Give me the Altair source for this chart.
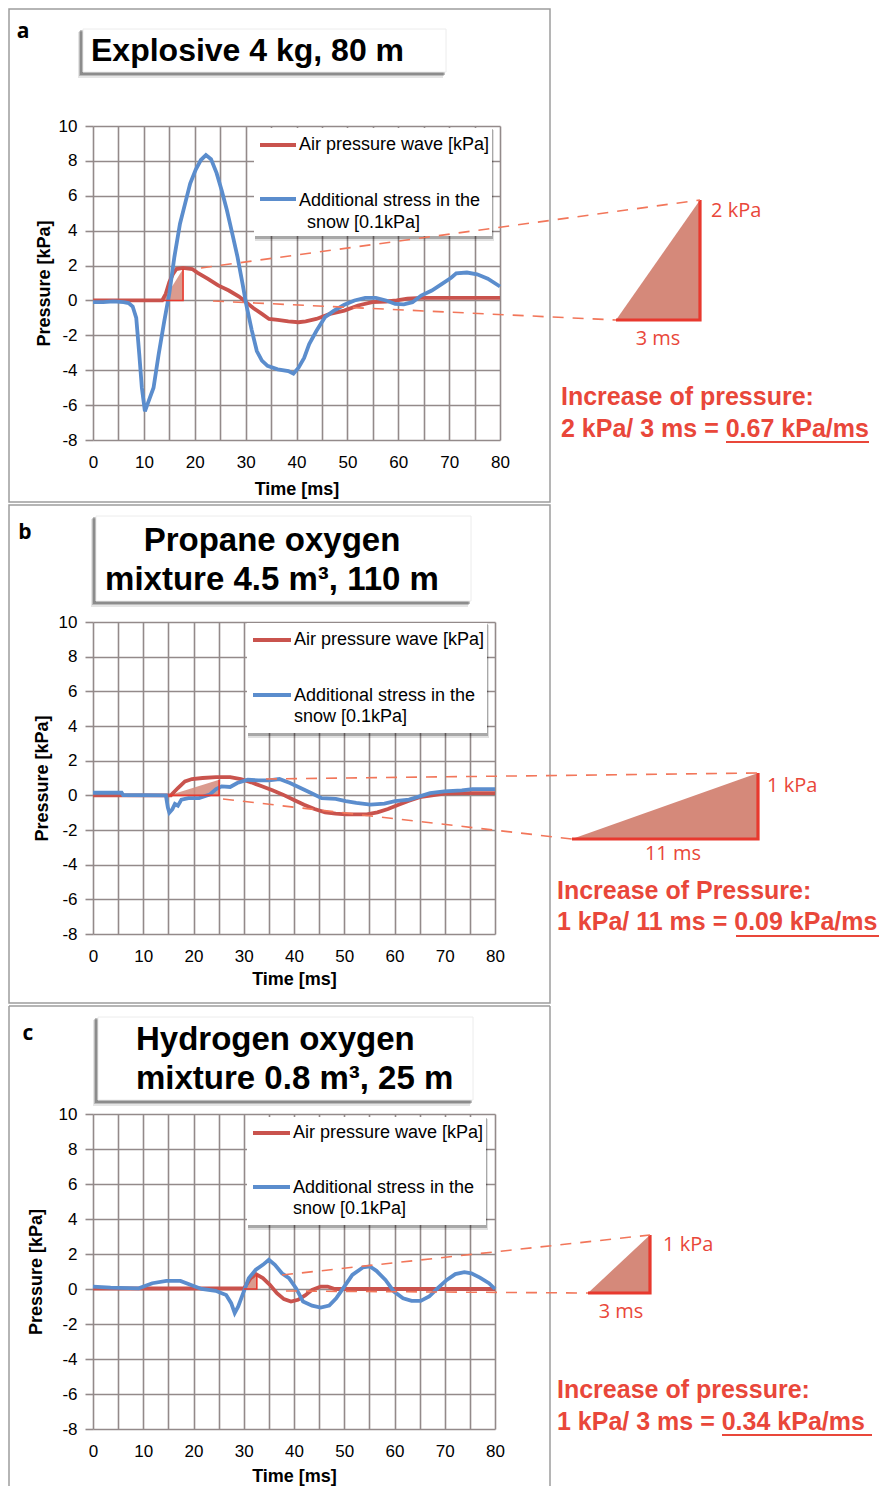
import altair as alt
import pandas as pd

# ---------------- data ----------------
A_AIR_T = [0, 13.6, 14.3, 15.0, 15.7, 16.4, 17.7, 19.5, 20.5, 22.6, 24.6, 26.7, 28.7, 30.1, 31.5, 33.2,
           34.6, 36.3, 38.4, 40.4, 41.8, 43.9, 46.6, 49.4, 52.1, 54.9, 57.6, 59.7, 61.8, 64.5, 80]
A_AIR_P = [0, 0, 0.38, 1.05, 1.5, 1.8, 1.87, 1.8, 1.6, 1.24, 0.86, 0.57, 0.22, -0.1, -0.43, -0.77,
           -1.06, -1.12, -1.2, -1.25, -1.2, -1.06, -0.77, -0.58, -0.29, -0.1, -0.06, 0, 0.1, 0.15, 0.15]
A_SNOW_T = [0, 2, 4, 6, 7, 7.8, 8.5, 9.1, 9.6, 10.2, 10.9, 11.9, 12.9, 14.0, 15.0, 16.0, 17.1, 18.1,
            19.1, 20.2, 21.2, 22.2, 23.2, 24.3, 25.3, 26.3, 27.4, 28.4, 29.4, 30.1, 31.2, 32.2, 33.2,
            34.3, 36.3, 38.4, 39.4, 40.4, 41.5, 42.5, 43.9, 45.6, 47.3, 49.4, 51.4, 53.5, 55.6, 57.6,
            59.4, 61.1, 62.8, 64.5, 66.6, 68.6, 70.4, 71.4, 73.5, 75.5, 77.6, 80]
A_SNOW_P = [-0.1, -0.1, -0.05, -0.1, -0.15, -0.35, -1.0, -3.1, -5.0, -6.35, -5.8, -5.0, -3.1, -1.2,
            0.4, 2.5, 4.4, 5.55, 6.7, 7.5, 8.05, 8.33, 8.1, 7.3, 6.3, 5.2, 3.8, 2.5, 0.95, -0.2, -1.7,
            -2.9, -3.45, -3.75, -3.95, -4.05, -4.2, -3.85, -3.3, -2.5, -1.75, -0.96, -0.6, -0.25, 0.0,
            0.15, 0.15, 0.0, -0.2, -0.22, -0.1, 0.28, 0.57, 0.95, 1.3, 1.55, 1.6, 1.5, 1.25, 0.8]

B_AIR_T = [0, 15.5, 16.9, 18.3, 19.7, 21.8, 24.5, 27.3, 29.4, 31.5, 33.6, 35.7, 37.8, 39.9, 42, 44.1,
           46.2, 48.3, 50.3, 52.4, 54.5, 56.6, 58.7, 60.8, 62.9, 65, 67.1, 69.9, 73.4, 80]
B_AIR_P = [0, 0, 0.42, 0.8, 0.94, 1.0, 1.05, 1.05, 0.94, 0.75, 0.52, 0.29, 0.04, -0.25, -0.54, -0.79,
           -0.98, -1.05, -1.1, -1.1, -1.1, -0.98, -0.79, -0.54, -0.31, -0.11, -0.02, 0.1, 0.13, 0.13]
B_SNOW_T = [0, 5.7, 6, 14.5, 14.9, 15.2, 15.8, 16.3, 16.9, 17.6, 19, 21.1, 23.2, 24.5, 25.6, 27.3,
            28.7, 30.8, 32.9, 35, 37.1, 39.2, 41.3, 43.4, 45.5, 48.3, 50.3, 52.4, 55.2, 58, 60.1,
            62.9, 65, 67.1, 69.9, 73.4, 75.5, 80]
B_SNOW_P = [0.15, 0.15, 0.02, 0.0, -0.7, -1.0, -0.8, -0.5, -0.6, -0.25, -0.16, -0.16, 0.04, 0.36,
            0.52, 0.48, 0.71, 0.9, 0.86, 0.86, 0.94, 0.71, 0.42, 0.13, -0.16, -0.21, -0.34, -0.44,
            -0.54, -0.48, -0.34, -0.25, -0.06, 0.13, 0.23, 0.29, 0.36, 0.36]

C_AIR_T = [0, 30, 31.4, 32.4, 33.8, 35.2, 36.6, 38, 39.4, 40.8, 42.2, 43.6, 45.3, 46.7, 48.1, 80]
C_AIR_P = [0.03, 0.03, 0.62, 0.85, 0.62, 0.24, -0.24, -0.58, -0.72, -0.62, -0.37, -0.05, 0.14, 0.14,
           0.0, 0.0]
C_SNOW_T = [0, 3.5, 9.1, 11.8, 14.6, 17.4, 19.5, 21.6, 24.4, 26.5, 27.5, 28.2, 28.9, 30, 31, 32.4,
            33.8, 35, 36.2, 37.6, 39, 40.4, 41.8, 43.6, 45.3, 47, 48.4, 49.8, 51.6, 53.7, 55.1, 56.4,
            58.2, 59.9, 61.7, 63.4, 65.2, 66.9, 68.6, 70.4, 72.1, 73.9, 75.3, 77, 78.8, 80]
C_SNOW_P = [0.14, 0.08, 0.04, 0.33, 0.46, 0.46, 0.23, 0.0, -0.1, -0.34, -0.81, -1.38, -1.0, -0.15,
            0.62, 1.1, 1.38, 1.67, 1.38, 0.9, 0.62, 0.05, -0.72, -0.95, -1.06, -0.95, -0.53, 0.05,
            0.81, 1.23, 1.29, 1.04, 0.52, -0.15, -0.53, -0.68, -0.68, -0.43, 0.05, 0.52, 0.85, 0.96,
            0.9, 0.65, 0.33, 0.0]

# rise triangles drawn on the curves: (start time, end time, pressure reached)
A_RISE = [13.8, 17.7, 1.8]
B_RISE = [15.2, 25.1, 0.9]
C_RISE = [30.0, 32.6, 0.85]

X_TICKS = list(range(0, 81, 5))
Y_TICKS = list(range(-8, 11, 2))
LEGEND = ["Air pressure wave [kPa]", "Additional stress in the", "snow [0.1kPa]"]
TITLES = [["Explosive 4 kg, 80 m"],
          ["Propane oxygen", "mixture 4.5 m³, 110 m"],
          ["Hydrogen oxygen", "mixture 0.8 m³, 25 m"]]
LETTERS = ["a", "b", "c"]
RISE_LABELS = [["2 kPa", "3 ms"], ["1 kPa", "11 ms"], ["1 kPa", "3 ms"]]
INCREASE = ["Increase of pressure:", "Increase of Pressure:", "Increase of pressure:"]
RATES = ["2 kPa/ 3 ms = 0.67 kPa/ms", "1 kPa/ 11 ms = 0.09 kPa/ms", "1 kPa/ 3 ms = 0.34 kPa/ms"]

# ---------------- styles ----------------
FONT = "Liberation Sans"
SOFT = "Open Sans"
RED = "#c9534d"
BLUE = "#5b8dcd"
GRID = "#938a8a"
ANNO = "#e9473a"
DASH = "#f2765a"
TRI_FILL = "#d5897a"

# ---------------- layout (pixels relative to each plot's top-left) ----------------
# "sh" moves the frame-fixed pieces (title, letter, enlarged triangle, texts) so that they
# keep their place on the page although the plots of all panels share one left edge.
CFG = [
    dict(W=407, H=314, xtp=10, ytp=5, sh=0,
         border=(-84, 457, -117, 376), closed=True,
         letter=(-70, -94), tbox=(-10, 353, -97, -54),
         tlines=[(-2, -75)], talign="left", tsize=32,
         lbox=(161, 399, 2, 110),
         leg=dict(x1=167, x2=203, tx=206, tx3=214, y1=19, y2=73, ty2=75, ty3=97),
         dup=(108, 142), dlo=(120, 175), tri=(523, 607, 194, 74),
         lab1=(618, 85), lab2=(565, 213),
         inc=(468, 271), rate=(468, 303), under=(633, 776, 316)),
    dict(W=402, H=312, xtp=6, ytp=7, sh=-5,
         border=(-84, 457, -117, 381), closed=True,
         letter=(-63, -89), tbox=(8, 383, -106, -21),
         tlines=[(184, -81), (184, -42)], talign="center", tsize=33,
         lbox=(154, 394, 1, 111),
         leg=dict(x1=160, x2=198, tx=201, tx3=201, y1=18, y2=73, ty2=74, ty3=95),
         dup=(173, 157), dlo=(130, 177), tri=(484, 670, 217, 151),
         lab1=(679, 164), lab2=(585, 232),
         inc=(469, 269), rate=(469, 300), under=(648, 791, 314)),
    dict(W=402, H=315, xtp=8, ytp=13, sh=-4,
         border=(-84, 457, -108, 372), closed=False,
         letter=(-61, -80), tbox=(9, 384, -97, -14),
         tlines=[(47, -74), (47, -35)], talign="left", tsize=33,
         lbox=(154, 393, 3, 111),
         leg=dict(x1=160, x2=197, tx=200, tx3=200, y1=19, y2=73, ty2=74, ty3=95),
         dup=(189, 161), dlo=(193, 177), tri=(499, 561, 179, 121),
         lab1=(574, 131), lab2=(532, 198),
         inc=(468, 276), rate=(468, 308), under=(633, 783, 321)),
]

SERIES = [
    (A_AIR_T, A_AIR_P, A_SNOW_T, A_SNOW_P, A_RISE),
    (B_AIR_T, B_AIR_P, B_SNOW_T, B_SNOW_P, B_RISE),
    (C_AIR_T, C_AIR_P, C_SNOW_T, C_SNOW_P, C_RISE),
]

ONE = pd.DataFrame({"k": [0]})


def rect(x, x2, y, y2, **kw):
    return alt.Chart(ONE).mark_rect(**kw).encode(
        x=alt.value(x), x2=alt.value(x2), y=alt.value(y), y2=alt.value(y2))


def rule(x, y, x2, y2, **kw):
    return alt.Chart(ONE).mark_rule(**kw).encode(
        x=alt.value(x), y=alt.value(y), x2=alt.value(x2), y2=alt.value(y2))


def text(x, y, s, **kw):
    return alt.Chart(ONE).mark_text(text=s, baseline="middle", **kw).encode(
        x=alt.value(x), y=alt.value(y))


HYPHEN = "datum.value < 0 ? '-' + abs(datum.value) : '' + datum.value"


def panel(i):
    c = CFG[i]
    W, H, sh = c["W"], c["H"], c["sh"]
    air_t, air_p, snow_t, snow_p, rise = SERIES[i]

    xscale = alt.Scale(domain=[0, 80], nice=False, zero=False)
    yscale = alt.Scale(domain=[-8, 10], nice=False, zero=False)
    xaxis = alt.Axis(values=X_TICKS, labelExpr="datum.value % 10 == 0 ? '' + datum.value : ''",
                     grid=True, gridColor=GRID, gridWidth=1.6, ticks=False, domain=False,
                     labelFont=FONT, labelFontSize=17, labelColor="black", labelPadding=14,
                     labelFlush=False, labelOverlap=False,
                     title="Time [ms]", titleFont=FONT, titleFontSize=18, titleFontWeight="bold",
                     titleColor="black", titlePadding=c["xtp"], zindex=0)
    yaxis = alt.Axis(values=Y_TICKS, labelExpr=HYPHEN, grid=True, gridColor=GRID, gridWidth=1.6,
                     ticks=True, tickSize=8, tickColor=GRID, tickWidth=1.6, domain=False,
                     labelFont=FONT, labelFontSize=17, labelColor="black", labelPadding=8,
                     labelOverlap=False,
                     title="Pressure [kPa]", titleFont=FONT, titleFontSize=18,
                     titleFontWeight="bold", titleColor="black", titlePadding=c["ytp"], zindex=0)

    def X(f):
        return alt.X(f"{f}:Q", scale=xscale, axis=xaxis, title="Time [ms]")

    def Y(f):
        return alt.Y(f"{f}:Q", scale=yscale, axis=yaxis, title="Pressure [kPa]")

    def to_t(px):
        return px * 80.0 / W

    def to_p(py):
        return 10.0 - py * 18.0 / H

    layers = []
    # panel border
    bx, bx2, by, by2 = c["border"]
    if c["closed"]:
        layers.append(rect(bx, bx2, by, by2, fillOpacity=0, stroke="#9d9d9d", strokeWidth=1.5))
    else:
        layers.append(rule(bx, by, bx2, by, color="#9d9d9d", strokeWidth=1.5))
        layers.append(rule(bx, by, bx, by2, color="#9d9d9d", strokeWidth=1.5))
        layers.append(rule(bx2, by, bx2, by2, color="#9d9d9d", strokeWidth=1.5))

    # panel letter
    lx, ly = c["letter"]
    layers.append(text(lx + sh, ly, LETTERS[i], font=SOFT, fontSize=21, fontWeight="bold",
                       color="black", align="center"))

    # title box with shadow
    tx, tx2, ty, ty2 = c["tbox"]
    tx, tx2 = tx + sh, tx2 + sh
    layers.append(rect(tx - 5, tx2 - 3, ty + 3, ty2 + 6, color="#000000", opacity=0.10))
    layers.append(rect(tx - 4, tx2 - 2, ty + 2, ty2 + 4, color="#000000", opacity=0.18))
    layers.append(rect(tx - 3, tx2 - 1, ty + 1, ty2 + 3, color="#000000", opacity=0.25))
    layers.append(rect(tx, tx2, ty, ty2, color="white", stroke="#ececec", strokeWidth=1))
    for (lxx, lyy), s in zip(c["tlines"], TITLES[i]):
        layers.append(text(lxx + sh, lyy, s, font=FONT, fontSize=c["tsize"], fontWeight="bold",
                           color="black", align=c["talign"]))

    # legend box with shadow
    gx, gx2, gy, gy2 = c["lbox"]
    layers.append(rect(gx + 1, gx2 + 2, gy + 2, gy2 + 5, color="#000000", opacity=0.12))
    layers.append(rect(gx + 1, gx2 + 1, gy + 1, gy2 + 3, color="#000000", opacity=0.25))
    layers.append(rect(gx, gx2, gy, gy2, color="white"))
    lg = c["leg"]
    layers.append(rule(lg["x1"], lg["y1"], lg["x2"], lg["y1"], color=RED, strokeWidth=4))
    layers.append(rule(lg["x1"], lg["y2"], lg["x2"], lg["y2"], color=BLUE, strokeWidth=4))
    layers.append(text(lg["tx"], lg["y1"], LEGEND[0], font=FONT, fontSize=18, color="black",
                       align="left"))
    layers.append(text(lg["tx"], lg["ty2"], LEGEND[1], font=FONT, fontSize=18, color="black",
                       align="left"))
    layers.append(text(lg["tx3"], lg["ty3"], LEGEND[2], font=FONT, fontSize=18, color="black",
                       align="left"))

    # rise triangle on the curves (fill)
    t0, t1, ptop = rise
    rise_fill = pd.DataFrame({"t": [t0, t1], "p": [0, ptop], "p0": [0, 0]})
    layers.append(alt.Chart(rise_fill).mark_area(color=TRI_FILL, opacity=0.85).encode(
        x=X("t"), y=Y("p"), y2="p0"))

    # curves
    air = pd.DataFrame({"t": air_t, "p": air_p})
    snow = pd.DataFrame({"t": snow_t, "p": snow_p})
    layers.append(alt.Chart(air).mark_line(color=RED, strokeWidth=3.8).encode(x=X("t"), y=Y("p")))
    layers.append(alt.Chart(snow).mark_line(color=BLUE, strokeWidth=3.8).encode(x=X("t"), y=Y("p")))

    # rise triangle edges
    rise_edge = pd.DataFrame({"t": [t0, t1, t1], "p": [0, 0, ptop], "o": [0, 1, 2]})
    layers.append(alt.Chart(rise_edge).mark_line(color="#e8392e", strokeWidth=1.6).encode(
        x=X("t"), y=Y("p"), order="o:Q"))

    # enlarged triangle outside the plot
    xl, xr, yb, yt = c["tri"]
    xl, xr = xl + sh, xr + sh
    big_fill = pd.DataFrame({"t": [to_t(xl), to_t(xr)], "p": [to_p(yb), to_p(yt)],
                             "p0": [to_p(yb), to_p(yb)]})
    layers.append(alt.Chart(big_fill).mark_area(color=TRI_FILL).encode(
        x=X("t"), y=Y("p"), y2="p0"))
    big_edge = pd.DataFrame({"t": [to_t(xl), to_t(xr), to_t(xr)],
                             "p": [to_p(yb), to_p(yb), to_p(yt)], "o": [0, 1, 2]})
    layers.append(alt.Chart(big_edge).mark_line(color="#e8392e", strokeWidth=3.2).encode(
        x=X("t"), y=Y("p"), order="o:Q"))

    # dashed guide lines
    ux, uy = c["dup"]
    dx, dy = c["dlo"]
    layers.append(rule(ux, uy, xr, yt, color=DASH, strokeWidth=1.6, strokeDash=[11, 9]))
    layers.append(rule(dx, dy, xl, yb, color=DASH, strokeWidth=1.6, strokeDash=[11, 9]))

    # annotation texts
    a1, a2 = RISE_LABELS[i]
    layers.append(text(c["lab1"][0] + sh, c["lab1"][1], a1, font=SOFT, fontSize=20, color=ANNO,
                       align="left"))
    layers.append(text(c["lab2"][0] + sh, c["lab2"][1], a2, font=SOFT, fontSize=20, color=ANNO,
                       align="center"))
    layers.append(text(c["inc"][0] + sh, c["inc"][1], INCREASE[i], font=FONT, fontSize=25,
                       fontWeight="bold", color=ANNO, align="left"))
    layers.append(text(c["rate"][0] + sh, c["rate"][1], RATES[i], font=FONT, fontSize=25,
                       fontWeight="bold", color=ANNO, align="left"))
    u1, u2, uy2 = c["under"]
    layers.append(rule(u1 + sh, uy2, u2 + sh, uy2, color=ANNO, strokeWidth=2))

    return alt.layer(*layers).properties(width=W, height=H)


chart = alt.vconcat(panel(0), panel(1), panel(2), spacing=1).properties(
    padding=0, background="white"
).configure_view(stroke=None)

chart.save("out.html", embed_options={"renderer": "svg", "actions": False})
